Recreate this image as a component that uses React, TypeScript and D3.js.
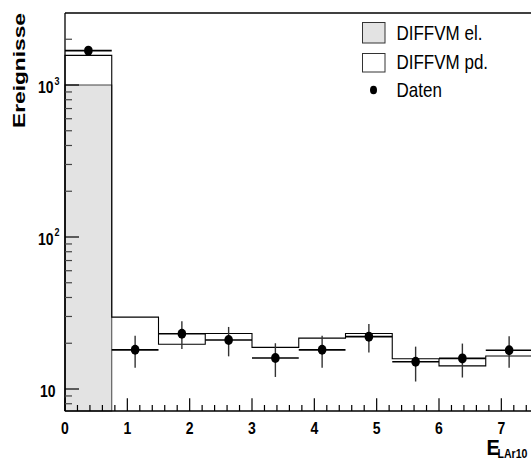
import React from "react";
import * as d3 from "d3";

const binEdges = [0, 0.75, 1.5, 2.25, 3.0, 3.75, 4.5, 5.25, 6.0, 6.75, 7.5];
const elValues = [1000, 0, 0, 0, 0, 0, 0, 0, 0, 0];
const totalValues = [1567, 29.7, 19.7, 23.2, 18.8, 21.6, 23.2, 15.8, 14.2, 16.5];
const dataValues = [1683, 18.1, 23.1, 21.0, 16.0, 18.1, 22.1, 15.1, 15.9, 18.0];
const dataErrors = [41, 4.3, 4.8, 4.6, 4.0, 4.3, 4.7, 3.9, 4.0, 4.2];
const xTickLabels = ["0", "1", "2", "3", "4", "5", "6", "7"];
const yMajorTicks = [10, 100, 1000];
const yMinorTicks = [8, 9, 20, 30, 40, 50, 60, 70, 80, 90, 200, 300, 400, 500, 600, 700, 800, 900, 2000];
const legendLabels = ["DIFFVM el.", "DIFFVM pd.", "Daten"];

const W = 531;
const H = 462;
const LEFT = 65;
const TOP = 13;
const BOTTOM = 411;
const FONT = "'Liberation Sans', Arial, Helvetica, sans-serif";

function T({ x, y, children, size, bold = false, anchor = "start", sy = 1.18, len }: any) {
  return (
    <g transform={`translate(${x},${y}) scale(1,${sy})`}>
      <text
        x={0}
        y={0}
        fontFamily={FONT}
        fontSize={size}
        fontWeight={bold ? "bold" : "normal"}
        textAnchor={anchor}
        fill="#000"
        {...(len ? { textLength: len, lengthAdjust: "spacingAndGlyphs" } : {})}
      >
        {children}
      </text>
    </g>
  );
}

export default function App() {
  const x = d3.scaleLinear().domain([0, 7.5]).range([LEFT, 532.5]);
  const y = d3.scaleLog().domain([10, 1000]).range([389, 85]);

  const centers = binEdges.slice(0, -1).map((e, i) => (e + binEdges[i + 1]) / 2);

  const pts: [number, number][] = [[x(0), BOTTOM]];
  totalValues.forEach((v, i) => {
    pts.push([x(binEdges[i]), y(v)]);
    pts.push([x(binEdges[i + 1]), y(v)]);
  });
  pts.push([x(7.5), BOTTOM]);
  const outline = d3.line()(pts) as string;

  const xMajor = d3.range(0, 8, 1);
  const xMinor = d3.range(0, 7.6, 0.2).filter((v) => Math.abs(v - Math.round(v)) > 1e-6);

  return (
    <svg width={W} height={H} style={{ position: "absolute", left: 0, top: 0, background: "#fff" }}>
      <rect x={0} y={0} width={W} height={H} fill="#fff" />
      {/* total histogram (white) */}
      <path d={outline + "Z"} fill="#fff" stroke="none" />
      {/* el histogram (gray) */}
      {elValues.map((v, i) =>
        v > 0 ? (
          <rect key={"el" + i} x={x(binEdges[i])} y={y(v)} width={x(binEdges[i + 1]) - x(binEdges[i])} height={BOTTOM - y(v)} fill="#e3e3e3" stroke="#444" strokeWidth={1} />
        ) : null
      )}
      <path d={outline} fill="none" stroke="#000" strokeWidth={1.1} />

      {/* data points */}
      {dataValues.map((v, i) => (
        <g key={"d" + i}>
          <line x1={x(binEdges[i])} x2={x(binEdges[i + 1])} y1={y(v)} y2={y(v)} stroke="#000" strokeWidth={1.6} />
          <line x1={x(centers[i])} x2={x(centers[i])} y1={y(v + dataErrors[i])} y2={y(v - dataErrors[i])} stroke="#333" strokeWidth={1.4} />
          <ellipse cx={x(centers[i])} cy={y(v)} rx={4.3} ry={5} fill="#000" />
        </g>
      ))}

      {/* frame */}
      <line x1={LEFT} x2={W} y1={TOP} y2={TOP} stroke="#000" strokeWidth={1.3} />
      <line x1={LEFT} x2={LEFT} y1={TOP} y2={BOTTOM} stroke="#000" strokeWidth={1.3} />
      <line x1={LEFT} x2={W} y1={BOTTOM} y2={BOTTOM} stroke="#000" strokeWidth={1.3} />

      {/* x ticks */}
      {xMajor.map((v) => (
        <line key={"xM" + v} x1={x(v)} x2={x(v)} y1={BOTTOM} y2={BOTTOM - 12.7} stroke="#000" strokeWidth={1.2} />
      ))}
      {xMinor.map((v, i) => (
        <line key={"xm" + i} x1={x(v)} x2={x(v)} y1={BOTTOM} y2={BOTTOM - 6} stroke="#000" strokeWidth={1.2} />
      ))}
      {xTickLabels.map((t, i) => (
        <T key={"xl" + t} x={x(i)} y={433.5} size={14} bold anchor="middle" sy={1.12}>
          {t}
        </T>
      ))}

      {/* y ticks */}
      {yMajorTicks.map((v) => (
        <line key={"yM" + v} x1={LEFT} x2={LEFT + 14} y1={y(v)} y2={y(v)} stroke="#000" strokeWidth={1.2} />
      ))}
      {yMinorTicks.map((v) => (
        <line key={"ym" + v} x1={LEFT} x2={LEFT + 7} y1={y(v)} y2={y(v)} stroke="#444" strokeWidth={1.2} />
      ))}
      <T x={55.5} y={396.5} size={14} bold anchor="end" sy={1.18}>10</T>
      <T x={53.5} y={244.5} size={14} bold anchor="end" sy={1.18}>10</T>
      <T x={54.5} y={236} size={9} bold anchor="start" sy={1.18}>2</T>
      <T x={53.5} y={93} size={14} bold anchor="end" sy={1.18}>10</T>
      <T x={54.5} y={84.5} size={9} bold anchor="start" sy={1.18}>3</T>

      {/* y title */}
      <text
        transform={`translate(25,128) rotate(-90)`}
        fontFamily={FONT}
        fontSize={16}
        fontWeight="bold"
        textLength={115}
        lengthAdjust="spacingAndGlyphs"
      >
        Ereignisse
      </text>

      {/* x title */}
      <T x={486.5} y={455} size={20} bold sy={1.1}>E</T>
      <T x={497.5} y={457.5} size={12} bold sy={1.1} len={30}>LAr10</T>

      {/* legend */}
      <rect x={362.5} y={22.5} width={22.5} height={20.5} fill="#e3e3e3" stroke="#333" strokeWidth={1} />
      <rect x={362.5} y={53.5} width={22.5} height={18.5} fill="#fff" stroke="#333" strokeWidth={1} />
      <ellipse cx={373.5} cy={90} rx={3.5} ry={4.3} fill="#000" />
      <T x={396.5} y={39.5} size={17} sy={1.18}>{legendLabels[0]}</T>
      <T x={396.5} y={68.5} size={17} sy={1.18}>{legendLabels[1]}</T>
      <T x={396.5} y={97} size={17} sy={1.18}>{legendLabels[2]}</T>
    </svg>
  );
}
